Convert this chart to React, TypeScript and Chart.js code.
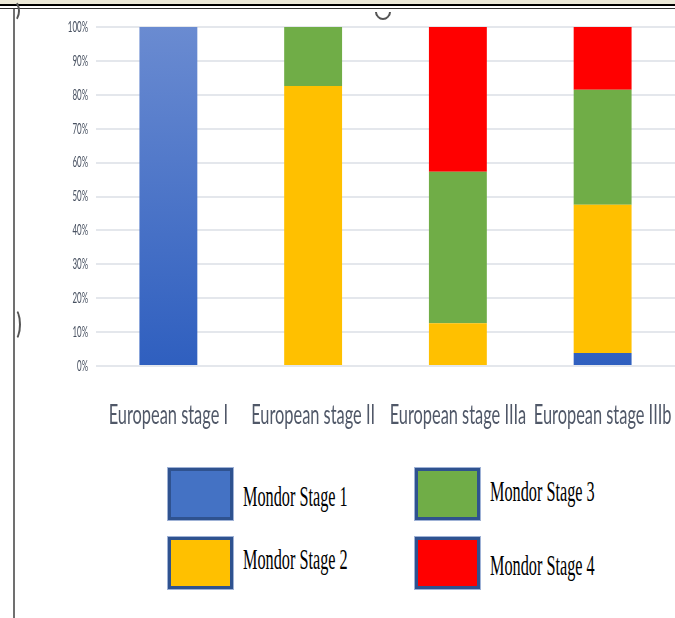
import React, { useEffect, useRef } from "react";
import { Chart, registerables } from "chart.js";

Chart.register(...registerables);

const categories = ["European stage I", "European stage II", "European stage IIIa", "European stage IIIb"];
const seriesNames = ["Mondor Stage 1", "Mondor Stage 2", "Mondor Stage 3", "Mondor Stage 4"];
const stage1 = [100, 0, 0, 3.8];
const stage2 = [0, 82.6, 12.6, 43.8];
const stage3 = [0, 17.4, 44.7, 33.9];
const stage4 = [0, 0, 42.7, 18.5];
const yTickValues = [0, 10, 20, 30, 40, 50, 60, 70, 80, 90, 100];
const seriesColors = ["#4472C4", "#FFC000", "#70AD47", "#FF0000"];

const AXIS_TEXT = "#475060";

const textPlugin = {
  id: "condensedText",
  afterDraw(chart: any) {
    const ctx = chart.ctx;
    const y = chart.scales.y;
    const x = chart.scales.x;
    ctx.save();
    ctx.fillStyle = AXIS_TEXT;
    ctx.font = '15px "Lato"';
    ctx.textAlign = "right";
    ctx.textBaseline = "middle";
    y.ticks.forEach((t: any) => {
      const py = y.getPixelForValue(t.value);
      ctx.save();
      ctx.translate(88, py);
      ctx.scale(0.53, 1);
      ctx.fillText(`${t.value}%`, 0, 0);
      ctx.restore();
    });
    ctx.fillStyle = "#505868";
    ctx.font = '26px "Lato"';
    ctx.textAlign = "center";
    ctx.textBaseline = "alphabetic";
    x.ticks.forEach((_t: any, i: number) => {
      const px = x.getPixelForTick(i);
      ctx.save();
      ctx.translate(px, 424);
      ctx.scale(0.63, 1);
      ctx.fillText(chart.data.labels[i], 0, 0);
      ctx.restore();
    });
    ctx.restore();
  },
};

function ChartCanvas() {
  const ref = useRef<HTMLCanvasElement | null>(null);
  useEffect(() => {
    if (!ref.current) return;
    const seriesData = [stage1, stage2, stage3, stage4];
    const chart = new Chart(ref.current, {
      type: "bar",
      data: {
        labels: categories,
        datasets: seriesNames.map((name, i) => ({
          label: name,
          data: seriesData[i],
          backgroundColor:
            i === 0
              ? (c: any) => {
                  const area = c.chart.chartArea;
                  if (!area) return seriesColors[0];
                  const g = c.chart.ctx.createLinearGradient(0, area.top, 0, area.bottom);
                  g.addColorStop(0, "#6a8bd1");
                  g.addColorStop(1, "#2f5fbf");
                  return g;
                }
              : seriesColors[i],
          borderWidth: 0,
          categoryPercentage: 1,
          barPercentage: 0.4,
        })),
      },
      options: {
        responsive: false,
        animation: false,
        layout: { padding: { top: 27, right: 0, left: 0, bottom: 0 } },
        plugins: { legend: { display: false }, tooltip: { enabled: false } },
        scales: {
          x: {
            stacked: true,
            grid: { display: false },
            border: { display: false },
            ticks: { display: false },
            afterFit: (s: any) => {
              s.height = 84;
            },
          },
          y: {
            stacked: true,
            min: 0,
            max: 100,
            afterBuildTicks: (s: any) => {
              s.ticks = yTickValues.map((v) => ({ value: v }));
            },
            grid: { color: "#e4e7ec", lineWidth: 2, drawTicks: false },
            border: { display: false },
            ticks: { display: false },
            afterFit: (s: any) => {
              s.width = 96;
            },
          },
        },
      },
      plugins: [textPlugin],
    });
    return () => chart.destroy();
  }, []);
  return (
    <canvas
      ref={ref}
      width={675}
      height={450}
      style={{ position: "absolute", left: 0, top: 0, width: 675, height: 450, display: "block" }}
    />
  );
}

const legendPlacement = [
  { idx: 0, boxLeft: 168, boxTop: 468, textTop: 481 },
  { idx: 2, boxLeft: 415, boxTop: 468, textTop: 476 },
  { idx: 1, boxLeft: 168, boxTop: 537, textTop: 544 },
  { idx: 3, boxLeft: 415, boxTop: 537, textTop: 550 },
];

export default function App() {
  return (
    <div
      style={{
        position: "absolute",
        left: 0,
        top: 0,
        width: 675,
        height: 618,
        background: "#ffffff",
        overflow: "hidden",
      }}
    >
      <div style={{ position: "absolute", left: 0, top: 0, width: 675, height: 4, background: "#ece9d8" }} />
      <div style={{ position: "absolute", left: 0, top: 4, width: 675, height: 2, background: "#000" }} />
      <div style={{ position: "absolute", left: 0, top: 8, width: 675, height: 1, background: "#333" }} />
      <div style={{ position: "absolute", left: 13, top: 9, width: 2, height: 609, background: "#707070" }} />
      <div
        style={{
          position: "absolute",
          left: 6,
          top: 0,
          width: 14,
          height: 22,
          borderRadius: "50%",
          border: "2px solid transparent",
          borderRightColor: "#555",
          boxSizing: "border-box",
        }}
      />
      <div
        style={{
          position: "absolute",
          left: 7,
          top: 308,
          width: 14,
          height: 33,
          borderRadius: "50%",
          border: "2px solid transparent",
          borderRightColor: "#555",
          boxSizing: "border-box",
        }}
      />
      <div
        style={{
          position: "absolute",
          left: 375,
          top: 4,
          width: 16,
          height: 16,
          borderRadius: "50%",
          border: "2px solid transparent",
          borderBottomColor: "#555",
          borderRightColor: "#555",
          boxSizing: "border-box",
          transform: "rotate(45deg)",
        }}
      />
      <ChartCanvas />
      {legendPlacement.map((p) => (
        <React.Fragment key={p.idx}>
          <div
            style={{
              position: "absolute",
              left: p.boxLeft,
              top: p.boxTop,
              width: 65,
              height: 52,
              boxSizing: "border-box",
              background: seriesColors[p.idx],
              border: "3px solid #2f528f",
              boxShadow: "0 0 0 1px #9fb2d6",
            }}
          />
          <div
            style={{
              position: "absolute",
              left: p.boxLeft + 75,
              top: p.textTop,
              fontFamily: '"Liberation Serif", serif',
              fontSize: 29,
              lineHeight: "30px",
              color: "#000",
              whiteSpace: "nowrap",
              transform: "scaleX(0.56)",
              transformOrigin: "left center",
            }}
          >
            {seriesNames[p.idx]}
          </div>
        </React.Fragment>
      ))}
    </div>
  );
}
